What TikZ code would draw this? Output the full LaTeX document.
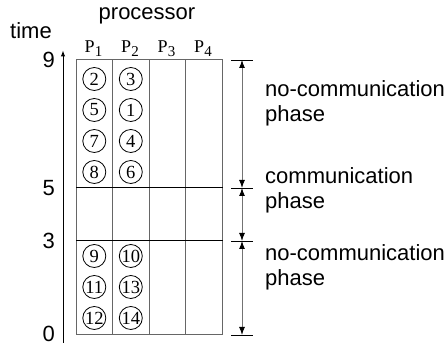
\documentclass[tikz,border=0pt]{standalone}
\usepackage{fontspec}
\setmainfont{Liberation Sans}
\newfontfamily\serif{Liberation Serif}
\usetikzlibrary{arrows.meta}
\newcommand{\procp}[1]{P\raisebox{-4pt}{\fontsize{15}{15}\selectfont #1}}
\tikzset{
  lbl/.style   = {font=\fontsize{22}{25}\selectfont, inner sep=0},
  proc/.style  = {font=\serif\fontsize{18}{18}\selectfont, inner sep=0, anchor=base},
  task/.style  = {circle, draw, line width=0.8pt, minimum size=23pt, inner sep=0, font=\serif\fontsize{18.5}{18}\selectfont},
  cell/.style  = {draw=black!60, line width=1pt},
  cut/.style   = {draw=black, line width=1pt},
  span/.style  = {draw=black!55, line width=1pt, {Latex[length=8pt,width=6pt,color=black]}-{Latex[length=8pt,width=6pt,color=black]}},
  tick/.style  = {line width=0.9pt}
}
\begin{document}
\begin{tikzpicture}[x=1pt,y=1pt]
  \useasboundingbox (0,0) rectangle (448,345);

  % time axis
  \draw[line width=1pt,-{Latex[length=6pt,width=4.5pt]}] (63,2) -- (63,294.5);
  \node[lbl,anchor=base] (time) at (31,306.7) {time};
  \node[lbl,anchor=east] (y9) at (55,285) {9};
  \node[lbl,anchor=east] (y5) at (55,157) {5};
  \node[lbl,anchor=east] (y3) at (55,104) {3};
  \node[lbl,anchor=east] (y0) at (55,11)  {0};

  % processors
  \node[lbl,anchor=base] (proc) at (147,325) {processor};
  \node[proc] (p1) at (93.5,292)  {\procp{1}};
  \node[proc] (p2) at (130,292)   {\procp{2}};
  \node[proc] (p3) at (166.5,292) {\procp{3}};
  \node[proc] (p4) at (203,292)   {\procp{4}};

  % schedule grid
  \draw[cell] (76,10) rectangle (222.5,285);
  \draw[cell] (112.5,10) -- (112.5,285) (149,10) -- (149,285) (185.5,10) -- (185.5,285);
  \draw[cut] (76,157) -- (222.5,157) (76,104) -- (222.5,104);

  % tasks
  \node[task] (t2)  at (94.3,266) {2};  \node[task] (t3)  at (130.8,266) {3};
  \node[task] (t5)  at (94.3,235) {5};  \node[task] (t1)  at (130.8,235) {1};
  \node[task] (t7)  at (94.3,204) {7};  \node[task] (t4)  at (130.8,204) {4};
  \node[task] (t8)  at (94.3,173) {8};  \node[task] (t6)  at (130.8,173) {6};
  \node[task] (t9)  at (94.3,89)  {9};  \node[task] (t10) at (130.8,89)  {10};
  \node[task] (t11) at (94.3,58)  {11}; \node[task] (t13) at (130.8,58)  {13};
  \node[task] (t12) at (94.3,27)  {12}; \node[task] (t14) at (130.8,27)  {14};

  % phases
  \coordinate (s9) at (242,285); \draw[tick] (231,285) -- (253,285);
  \coordinate (s5) at (242,157); \draw[tick] (231,157) -- (253,157);
  \coordinate (s3) at (242,104); \draw[tick] (231,104) -- (253,104);
  \coordinate (s0) at (242,10);  \draw[tick] (231,10) -- (253,10);
  \draw[span] (s9) -- (s5);
  \draw[span] (s5) -- (s3);
  \draw[span] (s3) -- (s0);
  \node[lbl,anchor=base west,align=left] (ph1) at (265,223.3) {no-communication\\phase};
  \node[lbl,anchor=base west,align=left] (ph2) at (265,136.7) {communication\\phase};
  \node[lbl,anchor=base west,align=left] (ph3) at (265,59)    {no-communication\\phase};
\end{tikzpicture}
\end{document}
